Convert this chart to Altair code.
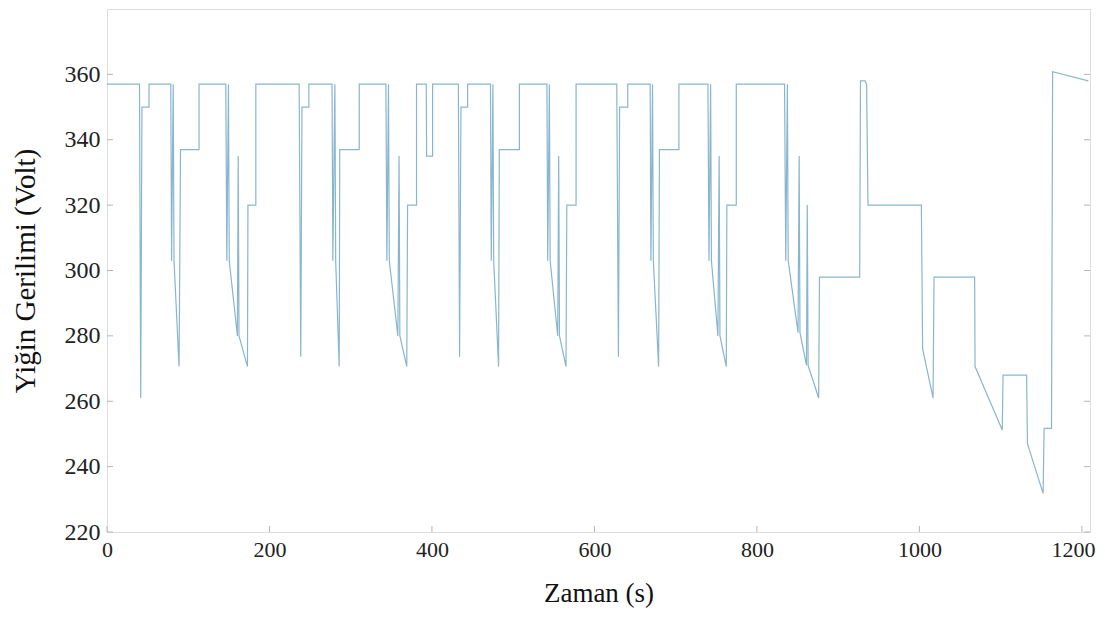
import altair as alt
import pandas as pd

# Time (s) and stack voltage (V)
time_s = [
    0, 40, 41.5, 43, 51.7, 51.7,
    78.5, 79.5, 81.5, 82.5, 88.7, 89.5, 90.5, 113.3, 113.3,
    146.2, 147.5, 149.5, 150.5, 160.5, 161.5, 162.5, 172.9, 173.5, 183.2, 183.2,
    236.5, 238.5, 240, 248.5, 248.5,
    277, 278, 280.5, 281.5, 285.8, 286.5, 310.5, 310.5,
    343.3, 344.5, 346.5, 347.5, 358, 359.5, 360.5, 369, 370, 381, 381,
    393, 393.4, 400.8, 400.8,
    432.5, 434, 435.7, 443.9, 443.9,
    472, 473, 475, 476, 482, 482.9, 507.6, 507.6,
    541.5, 542.5, 544.5, 545.5, 554.8, 556, 557, 565, 566, 577.4, 577.4,
    627.5, 629.5, 631, 641, 641,
    668.6, 669.5, 671.5, 672.5, 679, 680, 704, 704,
    739.7, 741, 743, 744, 752, 753.5, 754.5, 762.3, 763, 774.6, 774.6,
    834, 835.5, 837.5, 838.5, 850.6, 852, 853, 861, 862, 863, 876, 877,
    926.5, 927.5, 933, 935, 936.7, 1002.4, 1004, 1016.8, 1018, 1068, 1068.5,
    1102, 1103, 1132, 1133, 1152.3, 1153.5, 1162.6, 1164, 1208,
]
voltage = [
    357, 357, 261, 350, 350, 357,
    357, 303, 357, 303, 270.6, 300, 337, 337, 357,
    357, 303, 357, 303, 280, 335, 280, 270.6, 320, 320, 357,
    357, 273.6, 350, 350, 357,
    357, 303, 357, 303, 270.6, 337, 337, 357,
    357, 303, 357, 303, 280, 335, 280, 270.6, 320, 320, 357,
    357, 335, 335, 357,
    357, 273.6, 350, 350, 357,
    357, 303, 357, 303, 270.6, 337, 337, 357,
    357, 303, 357, 303, 280, 335, 280, 270.6, 320, 320, 357,
    357, 273.6, 350, 350, 357,
    357, 303, 357, 303, 270.6, 337, 337, 357,
    357, 303, 357, 303, 280, 335, 280, 270.6, 320, 320, 357,
    357, 303, 357, 303, 281, 335, 281, 271, 320, 271, 261, 298,
    298, 358, 358, 357, 320, 320, 276, 261, 298, 298, 270.6,
    251.2, 268, 268, 247, 231.8, 251.7, 251.7, 360.8, 358,
]

x_ticks = [0, 200, 400, 600, 800, 1000, 1200]
y_ticks = [220, 240, 260, 280, 300, 320, 340, 360]

W, H = 983, 523
FONT = "Liberation Serif"

df = pd.DataFrame({"t": time_s, "v": voltage, "i": list(range(len(time_s)))})
df_xt = pd.DataFrame({"t": x_ticks})
df_yt = pd.DataFrame({"v": y_ticks})

xscale = alt.Scale(domain=[0, 1210], nice=False, zero=False)
yscale = alt.Scale(domain=[220, 380], nice=False, zero=False)

last_x = "datum.value >= 1200"

line = alt.Chart(df).mark_line(color="#88b6cf", strokeWidth=1.2, clip=True).encode(
    x=alt.X("t:Q", scale=xscale,
            axis=alt.Axis(values=x_ticks, format="d", title="Zaman (s)", grid=False,
                          domain=False, ticks=False, labelPadding=7, labelFontSize=22,
                          labelFont=FONT, labelColor="#222", titleFont=FONT,
                          titleFontSize=27, titleFontWeight="normal", titleColor="#111",
                          titlePadding=20, labelFlush=False,
                          labelAlign={"condition": {"test": last_x, "value": "right"},
                                      "value": "center"},
                          labelOffset={"condition": {"test": last_x, "value": 13},
                                       "value": 0})),
    y=alt.Y("v:Q", scale=yscale,
            axis=alt.Axis(values=y_ticks, format="d", title="Yiğin Gerilimi (Volt)",
                          grid=False, domain=False, ticks=False, labelPadding=7,
                          labelFontSize=24, labelFont=FONT, labelColor="#222",
                          titleFont=FONT, titleFontSize=29, titleFontWeight="normal",
                          titleColor="#111", titlePadding=24)),
    order="i:Q",
)

tick_color = "#b5b5b5"
left_ticks = alt.Chart(df_yt).mark_rule(color=tick_color).encode(
    y=alt.Y("v:Q", scale=yscale), x=alt.value(0), x2=alt.value(6))
right_ticks = alt.Chart(df_yt).mark_rule(color=tick_color).encode(
    y=alt.Y("v:Q", scale=yscale), x=alt.value(W - 6), x2=alt.value(W))
bottom_ticks = alt.Chart(df_xt).mark_rule(color=tick_color).encode(
    x=alt.X("t:Q", scale=xscale), y=alt.value(H - 6), y2=alt.value(H))

chart = alt.layer(line, left_ticks, right_ticks, bottom_ticks).properties(
    width=W, height=H,
    autosize=alt.AutoSizeParams(type="none"),
    padding={"left": 99, "top": 1, "right": 7, "bottom": 77},
).configure_view(
    stroke="#c4c4c4", strokeWidth=1.5
).configure_axis(
    labelFont=FONT, titleFont=FONT
).configure(background="white")

chart.save("out.html", embed_options={"renderer": "svg", "actions": False})
